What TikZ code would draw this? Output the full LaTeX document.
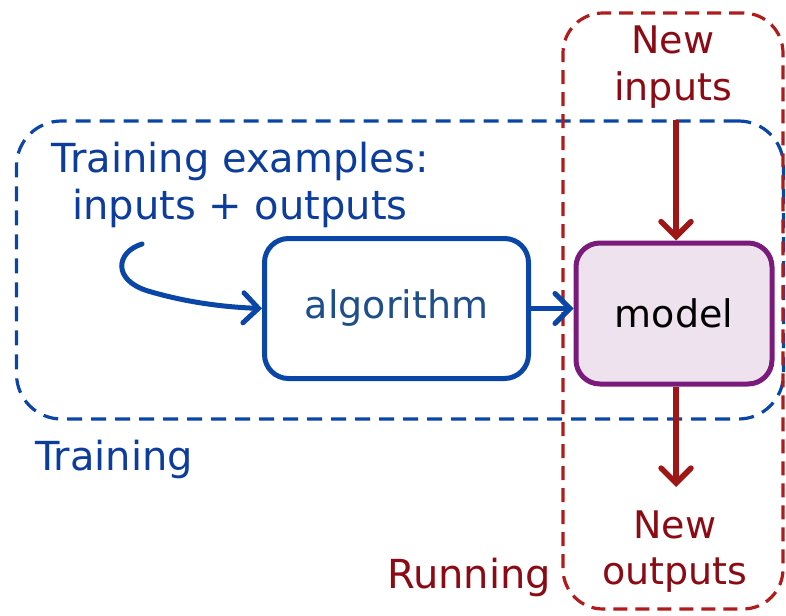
\documentclass[tikz,border=0pt]{standalone}
\usepackage{fontspec}
\setmainfont{DejaVu Sans}
\usetikzlibrary{arrows.meta}
\definecolor{bluel}{HTML}{0A45A8}
\definecolor{bluet}{HTML}{0C3C9C}
\definecolor{algt}{HTML}{1F4E8C}
\definecolor{redt}{HTML}{8C0A14}
\definecolor{reda}{HTML}{9E1616}
\definecolor{redd}{HTML}{B01C1C}
\definecolor{purp}{HTML}{7A1A7A}
\definecolor{lav}{HTML}{EEE2EE}
\tikzset{
  big/.style={font=\fontsize{38}{46}\selectfont},
  bigger/.style={font=\fontsize{40}{47}\selectfont},
  frameblue/.style={draw=bluel, line width=3.2pt, dash pattern=on 15pt off 9pt, rounded corners=45pt, inner sep=0pt},
  framered/.style={draw=redd, line width=3.2pt, dash pattern=on 14pt off 8pt, rounded corners=40pt, inner sep=0pt},
  boxalg/.style={draw=bluel, line width=5pt, fill=white, rounded corners=24pt, minimum width=264pt, minimum height=140pt, inner sep=0pt, text=algt},
  boxmodel/.style={draw=purp, line width=5pt, fill=lav, rounded corners=24pt, minimum width=196pt, minimum height=141pt, inner sep=0pt, text=black},
  bluearrow/.style={draw=bluel, line width=5pt, line cap=round, -{Straight Barb[length=15pt,width=30pt,line cap=round]}},
  redarrow/.style={draw=reda, line width=5.5pt, -{Straight Barb[length=15pt,width=30pt,line cap=round]}},
}
\begin{document}
\begin{tikzpicture}[x=1pt,y=-1pt]
\useasboundingbox (0,0) rectangle (786,615);
% frames
\node[frameblue, minimum width=767pt, minimum height=298pt] (train) at (400,270) {};
\node[framered, minimum width=220pt, minimum height=596pt] (run) at (673,311) {};
% boxes
\node[boxalg, big] (alg) at (396.5,308.5) {algorithm};
\node[boxmodel, big] (model) at (674,313.5) {model};
% texts
\node[bigger, text=bluet, align=center, anchor=base, inner sep=0pt] (ex) at (240,219) {Training examples:\\inputs + outputs};
\node[big, text=redt, align=center, anchor=base, inner sep=0pt] (newin) at (673,100) {New\\inputs};
\node[big, text=redt, align=center, anchor=base, inner sep=0pt] (newout) at (675,584) {New\\outputs};
\node[bigger, text=bluet, anchor=base west, inner sep=0pt] (trl) at (35,470) {Training};
\node[bigger, text=redt, anchor=base west, inner sep=0pt] (rnl) at (387,588) {Running};
% connectors
\coordinate (cs) at (142,244);
\coordinate (intop) at (676,120);
\coordinate (outbot) at (676,487);
\draw[bluearrow] (cs) .. controls (116,252) and (112,280) .. (148,291) .. controls (185,302) and (222,307) .. (alg.west);
\draw[bluearrow] (alg.east) -- (model.west |- alg.east);
\draw[redarrow] (intop) -- (model.north -| intop);
\draw[redarrow] (model.south -| outbot) -- (outbot);
\end{tikzpicture}
\end{document}
